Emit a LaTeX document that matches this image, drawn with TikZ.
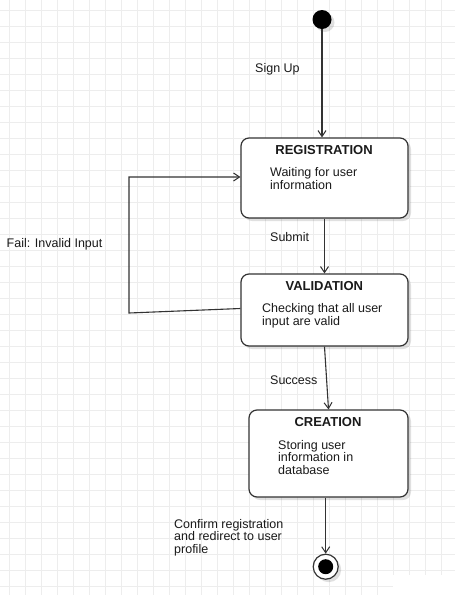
\documentclass[tikz,border=0pt]{standalone}
\usepackage{fontspec}
\setmainfont{Liberation Sans}
\usetikzlibrary{arrows.meta,shadows,calc}
\definecolor{gridc}{HTML}{EDEDED}
\definecolor{linec}{HTML}{333333}
\definecolor{txtc}{HTML}{1A1A1A}
\tikzset{
  gridline/.style={draw=gridc, line width=0.9pt},
  statebox/.style={draw=linec, line width=1.2pt, fill=white, rounded corners=8pt,
    drop shadow={shadow xshift=3pt, shadow yshift=-3pt, fill=black, opacity=0.12}},
  titletxt/.style={font=\fontsize{13}{14}\selectfont\bfseries, text=txtc, inner sep=0pt},
  desctxt/.style={font=\fontsize{12.5}{12.8}\selectfont, text=txtc, align=left, anchor=west, inner sep=0pt},
  lbl/.style={font=\fontsize{12.5}{12.8}\selectfont, text=txtc, align=left, anchor=west, inner sep=0pt},
  conn/.style={draw=linec, line width=1.1pt, -{Straight Barb[length=6pt,width=8pt,line width=1pt]}},
}
\begin{document}
\begin{tikzpicture}[x=1pt,y=-1pt]
\useasboundingbox (0,0) rectangle (455,595);
\fill[white] (0,0) rectangle (455,595);
% grid
\foreach \i in {0,...,27} \draw[gridline] (9+16*\i,0) -- (9+16*\i,595);
\foreach \j in {0,...,36} \draw[gridline] (0,10+16*\j) -- (455,10+16*\j);
\fill[white] (393,575) rectangle (455,595);
\draw[gridline] (380,586) -- (392,586);

% initial state
\node[circle, fill=black, minimum size=19pt, inner sep=0pt,
  drop shadow={shadow xshift=3pt, shadow yshift=-3pt, fill=black, opacity=0.12}] (init) at (322,19.5) {};

% states
\node[statebox, minimum width=167pt, minimum height=80pt] (reg) at (324.5,178) {};
\node[titletxt] (regt) at (324,150) {REGISTRATION};
\node[desctxt] (regd) at (270,178.5) {Waiting for user\\information};

\node[statebox, minimum width=167pt, minimum height=72pt] (val) at (324.5,310) {};
\node[titletxt] (valt) at (324.3,286) {VALIDATION};
\node[desctxt] (vald) at (262,315.5) {Checking that all user\\input are valid};

\node[statebox, minimum width=159pt, minimum height=87pt] (cre) at (328.5,453.5) {};
\node[titletxt] (cret) at (328,422) {CREATION};
\node[desctxt] (cred) at (278,457.5) {Storing user\\information in\\database};

% final state
\node[circle, draw=linec, line width=1.2pt, fill=white, minimum size=25pt, inner sep=0pt,
  drop shadow={shadow xshift=3pt, shadow yshift=-3pt, fill=black, opacity=0.12}] (fin) at (325.7,566.7) {};
\node[circle, fill=black, minimum size=15pt, inner sep=0pt] (finin) at (fin) {};

% connectors
\draw[conn] (init.south) -- (init.south |- reg.north);
\draw[conn] (reg.south) -- (val.north);
\draw[conn] (val.south) -- (cre.north);
\draw[conn] (fin |- cre.south) -- (fin.north);
\coordinate (c1) at (129,313);
\coordinate (c2) at (129,177);
\draw[conn] ([yshift=1.5pt]val.west) -- (c1) -- (c2) -- ([yshift=1pt]reg.west);

% labels
\node[lbl] (l1) at (255,69) {Sign Up};
\node[lbl] (l2) at (270,237) {Submit};
\node[lbl] (l3) at (6.5,244) {Fail: Invalid Input};
\node[lbl] (l4) at (270,380) {Success};
\node[lbl] (l5) at (174,537.7) {Confirm registration\\and redirect to user\\profile};
\end{tikzpicture}
\end{document}
